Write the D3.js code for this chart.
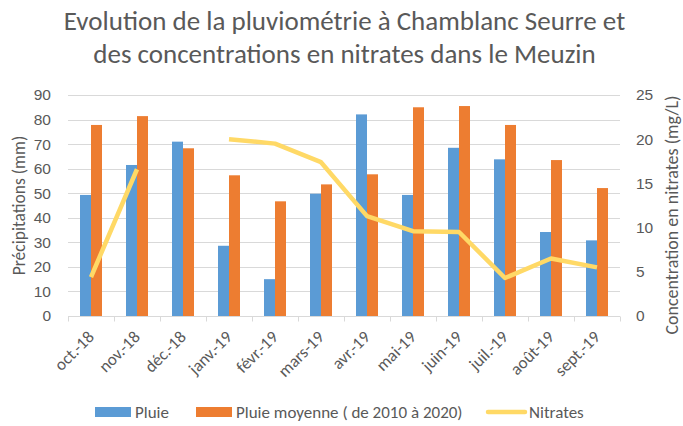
<!DOCTYPE html>
<html>
<head>
<meta charset="utf-8">
<script src="https://cdn.jsdelivr.net/npm/d3@7/dist/d3.min.js"></script>
<style>
  body { margin: 0; background: #ffffff; }
  svg { display: block; font-family: Carlito, Calibri, Lato, sans-serif; }
  .tick text { fill: #595959; }
</style>
</head>
<body>
<div id="chart"></div>
<script>
const months = ['oct.-18', 'nov.-18', 'déc.-18', 'janv.-19', 'févr.-19', 'mars-19',
  'avr.-19', 'mai-19', 'juin-19', 'juil.-19', 'août-19', 'sept.-19']
const pluie = [49.3, 61.5, 71.0, 28.6, 15.0, 49.8, 82.1, 49.3, 68.5, 63.8, 34.2, 30.8]
const pluieMoyenne = [77.8, 81.4, 68.3, 57.3, 46.7, 53.6, 57.7, 85.0, 85.5, 77.8, 63.5, 52.1]
const nitrates = [4.4, 16.6, null, 20.0, 19.5, 17.4, 11.3, 9.6, 9.5, 4.3, 6.5, 5.5]
const leftTicks = [0, 10, 20, 30, 40, 50, 60, 70, 80, 90]
const rightTicks = [0, 5, 10, 15, 20, 25]

const BLUE = '#5b9bd5'
const ORANGE = '#ed7d31'
const YELLOW = '#ffd966'
const GRID = '#d9d9d9'
const TEXT = '#595959'

const width = 683
const height = 426
const plot = { left: 68, right: 620, top: 95, bottom: 316 }

const svg = d3.select('#chart').append('svg')
  .attr('width', width)
  .attr('height', height)

const x = d3.scaleBand().domain(months).range([plot.left, plot.right])
const xInner = d3.scaleBand().domain(['pluie', 'moy']).range([0, 22])
const y = d3.scaleLinear().domain([0, 90]).range([plot.bottom, plot.top])
const y2 = d3.scaleLinear().domain([0, 25]).range([plot.bottom, plot.top])

// title
const title = svg.append('text')
  .attr('text-anchor', 'middle')
  .attr('fill', TEXT)
  .attr('font-size', 27)
title.append('tspan').attr('x', 344.5).attr('y', 30).text('Evolution de la pluviométrie à Chamblanc Seurre et')
title.append('tspan').attr('x', 344.5).attr('y', 63).text('des concentrations en nitrates dans le Meuzin')

// grid
svg.append('g')
  .selectAll('line')
  .data(leftTicks.slice(1))
  .join('line')
  .attr('x1', plot.left)
  .attr('x2', plot.right)
  .attr('y1', (d) => Math.round(y(d)) + 0.5)
  .attr('y2', (d) => Math.round(y(d)) + 0.5)
  .attr('stroke', GRID)

// left axis
svg.append('g')
  .attr('transform', `translate(${plot.left - 17},0)`)
  .call(d3.axisLeft(y).tickValues(leftTicks).tickSize(0).tickPadding(0))
  .call((g) => g.select('.domain').remove())
  .selectAll('text').attr('font-size', 15.5)

// right axis
svg.append('g')
  .attr('transform', `translate(${plot.right + 16},0)`)
  .call(d3.axisRight(y2).tickValues(rightTicks).tickSize(0).tickPadding(0))
  .call((g) => g.select('.domain').remove())
  .selectAll('text').attr('font-size', 15.5)

// bars
const groups = svg.append('g')
  .selectAll('g')
  .data(months)
  .join('g')
  .attr('transform', (d) => `translate(${x(d) + x.bandwidth() / 2 - 11},0)`)

groups.append('rect')
  .attr('x', xInner('pluie'))
  .attr('width', xInner.bandwidth())
  .attr('y', (d, i) => y(pluie[i]))
  .attr('height', (d, i) => plot.bottom - y(pluie[i]))
  .attr('fill', BLUE)

groups.append('rect')
  .attr('x', xInner('moy'))
  .attr('width', xInner.bandwidth())
  .attr('y', (d, i) => y(pluieMoyenne[i]))
  .attr('height', (d, i) => plot.bottom - y(pluieMoyenne[i]))
  .attr('fill', ORANGE)

// x axis
const xAxis = svg.append('g')
  .attr('transform', `translate(0,${plot.bottom + 0.5})`)
  .call(d3.axisBottom(x).tickSize(0).tickFormat(''))
xAxis.select('.domain').attr('stroke', GRID).attr('d', `M${plot.left},0H${plot.right}`)
xAxis.append('g')
  .selectAll('line')
  .data(d3.range(months.length + 1))
  .join('line')
  .attr('x1', (d) => Math.round(plot.left + d * x.step()) + 0.5)
  .attr('x2', (d) => Math.round(plot.left + d * x.step()) + 0.5)
  .attr('y1', 0)
  .attr('y2', 5)
  .attr('stroke', GRID)

svg.append('g')
  .selectAll('text')
  .data(months)
  .join('text')
  .attr('transform', (d) => `translate(${x(d) + x.bandwidth() / 2 + 4},${plot.bottom + 22}) rotate(-45)`)
  .attr('text-anchor', 'end')
  .attr('font-size', 17)
  .attr('fill', TEXT)
  .text((d) => d)

// nitrates line
const line = d3.line()
  .defined((d) => d != null)
  .x((d, i) => x(months[i]) + x.bandwidth() / 2)
  .y((d) => y2(d))

svg.append('path')
  .datum(nitrates)
  .attr('d', line)
  .attr('fill', 'none')
  .attr('stroke', YELLOW)
  .attr('stroke-width', 4.5)
  .attr('stroke-linejoin', 'round')

// axis titles
svg.append('text')
  .attr('transform', `translate(25,${(plot.top + plot.bottom) / 2}) rotate(-90)`)
  .attr('text-anchor', 'middle')
  .attr('font-size', 17.5)
  .attr('fill', TEXT)
  .text('Précipitations (mm)')

svg.append('text')
  .attr('transform', `translate(678,215) rotate(-90)`)
  .attr('text-anchor', 'middle')
  .attr('font-size', 18)
  .attr('fill', TEXT)
  .text('Concentration en nitrates (mg/L)')

// legend
const legendItems = [
  { label: 'Pluie', color: BLUE, type: 'rect', x: 95 },
  { label: 'Pluie moyenne ( de 2010 à 2020)', color: ORANGE, type: 'rect', x: 196 },
  { label: 'Nitrates', color: YELLOW, type: 'line', x: 488 },
]
const legend = svg.append('g').attr('transform', 'translate(0,412)')
legendItems.forEach((item) => {
  if (item.type === 'rect') {
    legend.append('rect')
      .attr('x', item.x).attr('y', -5)
      .attr('width', 36).attr('height', 10)
      .attr('fill', item.color)
  } else {
    legend.append('line')
      .attr('x1', item.x).attr('x2', item.x + 37)
      .attr('y1', 0).attr('y2', 0)
      .attr('stroke', item.color)
      .attr('stroke-width', 4.5)
      .attr('stroke-linecap', 'round')
  }
  legend.append('text')
    .attr('x', item.x + (item.type === 'rect' ? 40 : 41))
    .attr('y', 6)
    .attr('font-size', 17)
    .attr('fill', TEXT)
    .text(item.label)
})
</script>
</body>
</html>
